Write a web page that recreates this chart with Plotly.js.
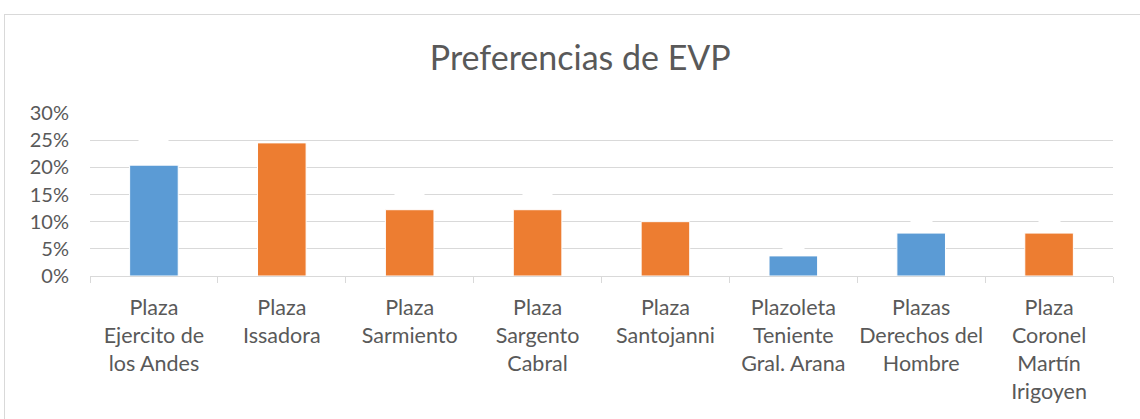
<!DOCTYPE html>
<html>
<head>
<meta charset="utf-8">
<script src="https://cdn.plot.ly/plotly-3.0.1.min.js"></script>
<style>
html,body{margin:0;padding:0;background:#fff;overflow:hidden;}
#frame{position:absolute;left:4px;top:14px;width:1200px;height:500px;border:1px solid #D9D9D9;box-sizing:border-box;}
#chart{position:absolute;left:0;top:0;width:1140px;height:419px;}
</style>
</head>
<body>
<div id="frame"></div>
<div id="chart"></div>
<script>
const categories = [
  "Plaza<br>Ejercito de<br>los Andes",
  "Plaza<br>Issadora",
  "Plaza<br>Sarmiento",
  "Plaza<br>Sargento<br>Cabral",
  "Plaza<br>Santojanni",
  "Plazoleta<br>Teniente<br>Gral. Arana",
  "Plazas<br>Derechos del<br>Hombre",
  "Plaza<br>Coronel<br>Martín<br>Irigoyen"
];
const values = [0.204, 0.245, 0.122, 0.122, 0.10, 0.037, 0.079, 0.079];
const barColors = ["#5B9BD5", "#ED7D31", "#ED7D31", "#ED7D31", "#ED7D31", "#5B9BD5", "#5B9BD5", "#ED7D31"];
const yTicks = [0, 0.05, 0.10, 0.15, 0.20, 0.25, 0.30];
const yTickLabels = ["0%", "5%", "10%", "15%", "20%", "25%", "30%"];

const font = "Lato, 'Open Sans', sans-serif";

const annotations = categories.map((c, i) => ({
  x: c, y: values[i], xref: 'x', yref: 'y',
  text: (values[i] * 100).toFixed(0) + '%',
  showarrow: false, yanchor: 'bottom', yshift: 6,
  font: {family: font, size: 14, color: '#FFFFFF'},
  bgcolor: '#FFFFFF'
}));

Plotly.newPlot('chart', [{
  type: 'bar',
  x: categories,
  y: values,
  marker: {color: barColors, line: {color: '#FFFFFF', width: 1}},
  hoverinfo: 'none'
}], {
  width: 1140, height: 419,
  paper_bgcolor: 'rgba(0,0,0,0)',
  plot_bgcolor: 'rgba(0,0,0,0)',
  margin: {l: 90, r: 27, t: 113, b: 143},
  bargap: 0.62,
  showlegend: false,
  title: {
    text: 'Preferencias de EVP',
    font: {family: font, size: 34, color: '#595959'},
    x: 0.509, xanchor: 'center',
    y: 1 - 58/419, yref: 'container', yanchor: 'middle'
  },
  xaxis: {
    type: 'category',
    showgrid: false,
    showline: true, linecolor: '#D9D9D9', linewidth: 1,
    ticks: 'outside', tickson: 'boundaries', ticklen: 6, tickcolor: '#D9D9D9',
    tickangle: 0, automargin: false,
    tickfont: {family: font, size: 21.5, color: '#595959'},
    ticklabelstandoff: 12,
    fixedrange: true
  },
  yaxis: {
    range: [0, 0.30],
    tickvals: yTicks, ticktext: yTickLabels,
    showgrid: true, gridcolor: '#D9D9D9', gridwidth: 1,
    zeroline: false, showline: false,
    ticks: '', ticklabelstandoff: 20,
    tickfont: {family: font, size: 20, color: '#595959'},
    fixedrange: true
  },
  annotations: annotations
}, {displayModeBar: false, staticPlot: true});
</script>
</body>
</html>
